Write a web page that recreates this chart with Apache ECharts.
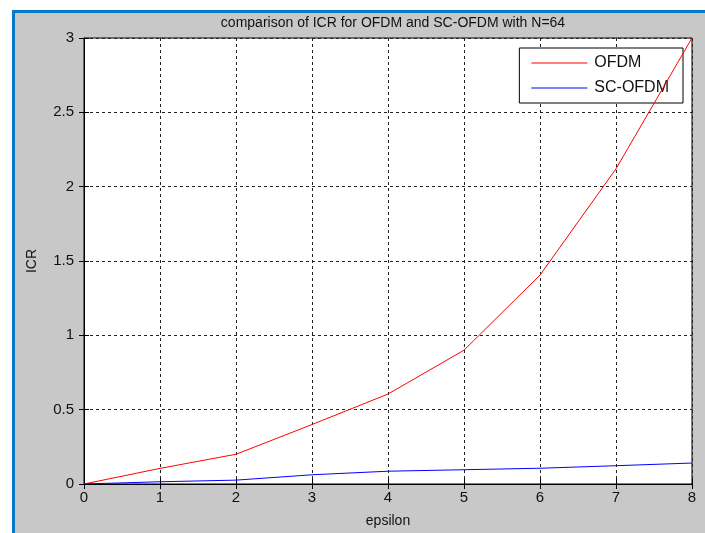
<!DOCTYPE html>
<html><head><meta charset="utf-8">
<script src="https://cdn.jsdelivr.net/npm/echarts@6/dist/echarts.min.js"></script>
<style>html,body{margin:0;padding:0;background:#fff;}#c{width:705px;height:533px;}</style>
</head><body><div id="c"></div>
<script>
var epsilon = [0, 1, 2, 3, 4, 5, 6, 7, 8];
var ofdm = [0, 0.105, 0.2, 0.4, 0.605, 0.9, 1.405, 2.12, 3.0];
var scofdm = [0, 0.015, 0.026, 0.062, 0.086, 0.096, 0.106, 0.123, 0.141];
var xTicks = [0, 1, 2, 3, 4, 5, 6, 7, 8];
var yTicks = [0, 0.5, 1, 1.5, 2, 2.5, 3];
var seriesNames = ['OFDM', 'SC-OFDM'];
var seriesColors = ['#ff0000', '#0000ff'];

var chart = echarts.init(document.getElementById('c'), null, {renderer: 'canvas'});
var font = 'Liberation Sans, Arial, sans-serif';
function pairs(ys){ return epsilon.map(function(x,i){ return [x, ys[i]]; }); }
var gridLine = {show: true, lineStyle: {color: '#222', type: [3, 3], width: 1}};
var option = {
  backgroundColor: '#fff',
  animation: false,
  graphic: [
    {type: 'rect', z: -10, shape: {x: 12, y: 10, width: 700, height: 530}, style: {fill: '#0a78c8'}},
    {type: 'rect', z: -9, shape: {x: 15, y: 13, width: 700, height: 530}, style: {fill: '#c8c8c8'}}
  ],
  title: {text: 'comparison of ICR for OFDM and SC-OFDM with N=64', left: 388, textAlign: 'center', top: 11,
    textStyle: {fontFamily: font, fontSize: 14, fontWeight: 'normal', color: '#111'}},
  grid: {left: 84, right: 13, top: 38, bottom: 49, show: true, backgroundColor: '#fff', borderColor: '#000', borderWidth: 1},
  legend: {
    data: seriesNames.map(function(n, i){ return {name: n, icon: 'rect', itemStyle: {color: seriesColors[i]}}; }),
    orient: 'vertical', right: 22, top: 48,
    backgroundColor: '#fff', borderColor: '#000', borderWidth: 1,
    padding: [6, 14, 6, 12], itemGap: 7, itemWidth: 56, itemHeight: 1.2,
    textStyle: {fontFamily: font, fontSize: 16, color: '#111', padding: [0, 0, 0, 2], lineHeight: 18}
  },
  xAxis: [{
    type: 'value', min: 0, max: 8, interval: 1, name: 'epsilon', nameLocation: 'middle', nameGap: 30,
    nameTextStyle: {fontFamily: font, fontSize: 14, color: '#111'},
    axisLine: {lineStyle: {color: '#000', width: 1}},
    axisTick: {inside: true, length: 5, lineStyle: {color: '#000'}},
    axisLabel: {fontFamily: font, fontSize: 15, color: '#111', margin: 6, formatter: function(v){ return xTicks.indexOf(v) >= 0 ? String(v) : ''; }},
    splitLine: gridLine
  }, {
    type: 'value', position: 'top', min: 0, max: 8, interval: 1,
    axisLine: {lineStyle: {color: '#000'}}, axisTick: {inside: true, length: 5, lineStyle: {color: '#000'}},
    axisLabel: {show: false}, splitLine: {show: false}
  }],
  yAxis: [{
    type: 'value', min: 0, max: 3, interval: 0.5, name: 'ICR', nameLocation: 'middle', nameGap: 45,
    nameTextStyle: {fontFamily: font, fontSize: 14, color: '#111'},
    axisLine: {lineStyle: {color: '#000', width: 1}},
    axisTick: {inside: true, length: 5, lineStyle: {color: '#000'}},
    axisLabel: {fontFamily: font, fontSize: 15, color: '#111', margin: 10, formatter: function(v){ return yTicks.indexOf(v) >= 0 ? String(v) : ''; }},
    splitLine: gridLine
  }, {
    type: 'value', position: 'right', min: 0, max: 3, interval: 0.5,
    axisLine: {lineStyle: {color: '#000'}}, axisTick: {inside: true, length: 5, lineStyle: {color: '#000'}},
    axisLabel: {show: false}, splitLine: {show: false}
  }],
  series: [
    {name: seriesNames[0], type: 'line', data: pairs(ofdm), showSymbol: false, symbol: 'none', lineStyle: {color: seriesColors[0], width: 1}, itemStyle: {color: seriesColors[0]}, z: 5},
    {name: seriesNames[1], type: 'line', data: pairs(scofdm), showSymbol: false, symbol: 'none', lineStyle: {color: seriesColors[1], width: 1}, itemStyle: {color: seriesColors[1]}, z: 5}
  ]
};
chart.setOption(option);
</script></body></html>
